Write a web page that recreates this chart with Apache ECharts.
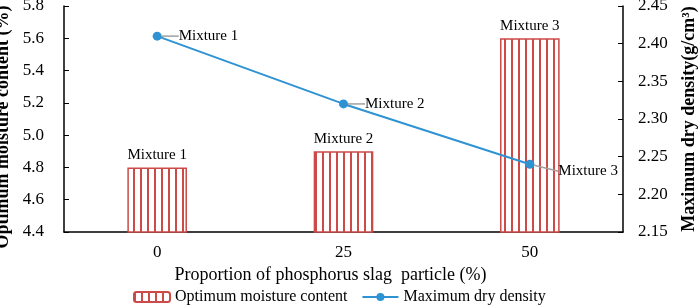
<!DOCTYPE html>
<html>
<head>
<meta charset="utf-8">
<script src="https://cdn.jsdelivr.net/npm/echarts@6/dist/echarts.min.js"></script>
<style>
  html, body { margin: 0; padding: 0; background: #fff; }
  #main { width: 699px; height: 306px; }
</style>
</head>
<body>
<div id="main"></div>
<script>
const categories = ['0', '25', '50'];
const moisture = [4.8, 4.9, 5.6];
const density = [2.41, 2.32, 2.24];
const pointNames = ['Mixture 1', 'Mixture 2', 'Mixture 3'];

const red = '#cc4a48';
const blue = '#2f93d3';
const font = 'Liberation Serif';

// vertical stripe fill for the bars
const cv = document.createElement('canvas');
cv.width = 7;
cv.height = 10;
const ctx = cv.getContext('2d');
ctx.fillStyle = '#fff';
ctx.fillRect(0, 0, 7, 10);
ctx.fillStyle = red;
ctx.fillRect(0, 0, 2, 10);

const chart = echarts.init(document.getElementById('main'));

const option = {
  animation: false,
  textStyle: {fontFamily: font, color: '#000'},
  grid: {left: 64, right: 76, top: 6, bottom: 74, outerBoundsMode: 'none'},
  legend: {
    top: 289,
    left: 133,
    padding: 0,
    itemGap: 14,
    itemWidth: 36,
    itemHeight: 10,
    textStyle: {fontFamily: font, fontSize: 16, color: '#000'},
    data: ['Optimum moisture content', 'Maximum dry density']
  },
  xAxis: {
    type: 'category',
    data: categories,
    name: 'Proportion of phosphorus slag  particle (%)',
    nameLocation: 'middle',
    nameGap: 33,
    nameTextStyle: {fontFamily: font, fontSize: 18, color: '#000', padding: [0, 26, 0, 0]},
    axisLine: {lineStyle: {color: '#000', width: 1.5}},
    axisTick: {inside: true, length: 5, lineStyle: {color: '#000'}},
    axisLabel: {fontFamily: font, fontSize: 17, color: '#000', margin: 12}
  },
  yAxis: [
    {
      type: 'value',
      min: 4.4,
      max: 5.8,
      interval: 0.2,
      name: 'Optimum moisture content (%)',
      nameLocation: 'middle',
      nameGap: 47,
      nameTextStyle: {fontFamily: font, fontSize: 18, fontWeight: 'bold', color: '#000', padding: [0, 16, 0, 0]},
      axisLine: {show: true, lineStyle: {color: '#000', width: 1.5}},
      axisTick: {show: true, inside: true, length: 5, lineStyle: {color: '#000'}},
      axisLabel: {fontFamily: font, fontSize: 17, color: '#000', margin: 20, formatter: v => v.toFixed(1)},
      splitLine: {show: false}
    },
    {
      type: 'value',
      min: 2.15,
      max: 2.45,
      interval: 0.05,
      name: 'Maximum dry density(g/cm³)',
      nameLocation: 'middle',
      nameGap: 57,
      nameRotate: 90,
      nameTextStyle: {fontFamily: font, fontSize: 18, fontWeight: 'bold', color: '#000'},
      axisLine: {show: true, lineStyle: {color: '#000', width: 1.5}},
      axisTick: {show: true, inside: true, length: 5, lineStyle: {color: '#000'}},
      axisLabel: {fontFamily: font, fontSize: 17, color: '#000', margin: 15, formatter: v => v.toFixed(2)},
      splitLine: {show: false}
    }
  ],
  series: [
    {
      name: 'Optimum moisture content',
      type: 'bar',
      yAxisIndex: 0,
      barWidth: '32%',
      data: moisture,
      itemStyle: {
        color: {image: cv, repeat: 'repeat'},
        borderColor: red,
        borderWidth: 1.5
      },
      label: {
        show: true,
        position: 'top',
        distance: 5,
        fontFamily: font,
        fontSize: 15,
        color: '#000',
        formatter: p => pointNames[p.dataIndex]
      }
    },
    {
      name: 'Maximum dry density',
      type: 'line',
      yAxisIndex: 1,
      data: density,
      symbol: 'circle',
      symbolSize: 9,
      lineStyle: {color: blue, width: 2},
      itemStyle: {color: blue},
      label: {
        show: true,
        position: 'right',
        distance: 4,
        fontFamily: font,
        fontSize: 15,
        color: '#000',
        formatter: p => pointNames[p.dataIndex]
      },
      labelLayout: p => (p.dataIndex === 2 ? {dx: 20, dy: 7} : {dx: 13, dy: 0}),
      labelLine: {show: true, lineStyle: {color: '#a0a0a0', width: 1.5}}
    }
  ]
};

chart.setOption(option);
</script>
</body>
</html>
